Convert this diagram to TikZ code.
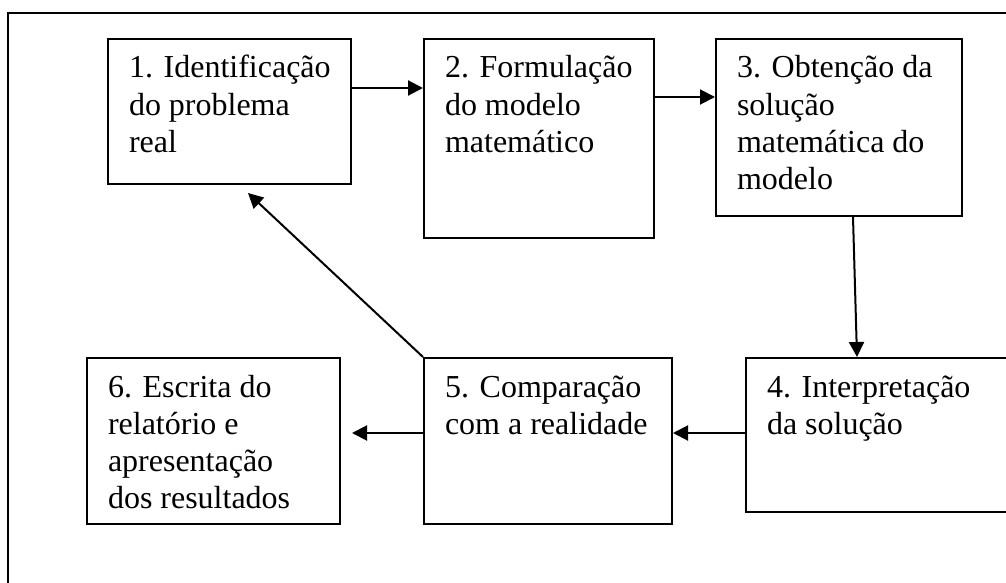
\documentclass[tikz,border=0pt]{standalone}
\usepackage{fontspec}
\setmainfont{Liberation Serif}
\usetikzlibrary{arrows.meta,calc}
\newcommand{\stagetext}[3]{\parbox[c][#2pt][t]{#1pt}{\raggedright\leftskip=21pt\rule{0pt}{39pt}#3}}

\begin{document}
\begin{tikzpicture}[x=1pt, y=-1pt,
  stage/.style={draw, line width=2pt, inner sep=0pt, anchor=north west, font=\fontsize{32}{37.3}\selectfont},
  flow/.style={line width=2pt, -{Triangle[length=15pt,width=15pt]}}]
\useasboundingbox (0,0) rectangle (1006,583);
\clip (0,0) rectangle (1006,583);
\draw[line width=2pt] (8,13) rectangle (1060,620);

\node[stage] (s1) at (107,38) {\stagetext{243}{145}{1. Identificação\\do problema\\real}};
\node[stage] (s2) at (423,38) {\stagetext{230}{199}{2. Formulação\\do modelo\\matemático}};
\node[stage] (s3) at (715,38) {\stagetext{246}{177}{3. Obtenção da\\solução\\matemática do\\modelo}};
\node[stage] (s4) at (745,357) {\stagetext{290}{154}{4. Interpretação\\da solução}};
\node[stage] (s5) at (423,357) {\stagetext{248}{166}{5. Comparação\\com a realidade}};
\node[stage] (s6) at (86,357) {\stagetext{253}{166}{6. Escrita do\\relatório e\\apresentação\\dos resultados}};

\draw[flow] ([yshift=-50pt]s1.north east) -- ([yshift=-50pt]s2.north west);
\draw[flow] ([yshift=-59pt]s2.north east) -- ([yshift=-59pt]s3.north west);
\draw[flow] ([xshift=138pt]s3.south west) -- ([xshift=112pt]s4.north west);
\draw[flow] ([yshift=-76pt]s4.north west) -- ([yshift=-76pt]s5.north east);
\draw[flow] ([yshift=-76pt]s5.north west) -- ([xshift=11pt,yshift=-76pt]s6.north east);
\draw[flow] (s5.north west) -- ([xshift=141pt,yshift=-8pt]s1.south west);
\end{tikzpicture}
\end{document}
